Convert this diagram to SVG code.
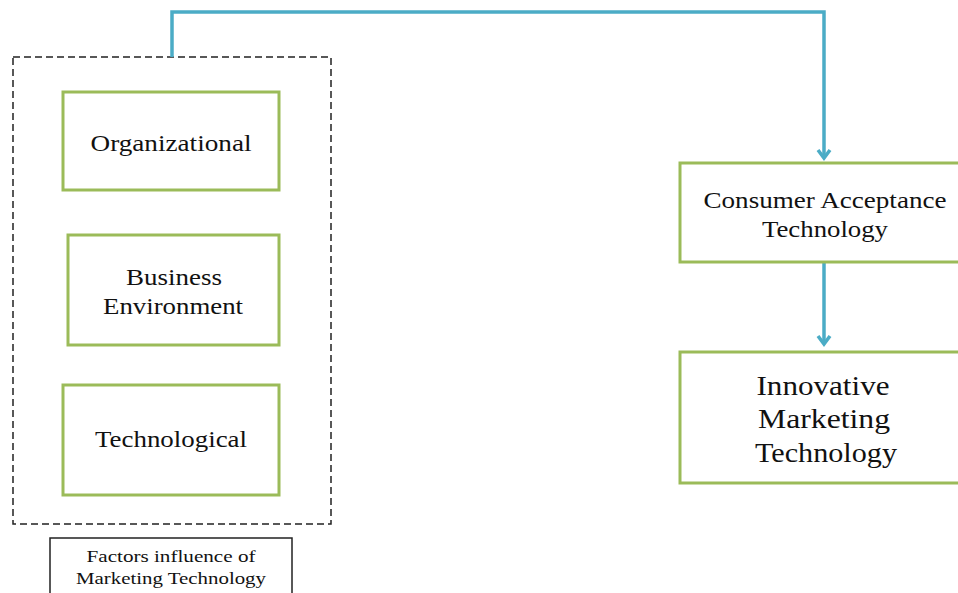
<svg xmlns="http://www.w3.org/2000/svg" width="958" height="593" viewBox="0 0 958 593">
<defs>
<style>
.box{fill:#fff;stroke:#9bbb59;stroke-width:3}
.t{font-family:"Liberation Serif",serif;fill:#111;text-anchor:middle}
.conn{fill:none;stroke:#4bacc6;stroke-width:3.5}
.head{fill:none;stroke:#4bacc6;stroke-width:3.5}
</style>
</defs>
<rect width="958" height="593" fill="#fff"/>
<g id="factors-group">
<rect x="13" y="57" width="318" height="467" fill="none" stroke="#222" stroke-width="1.5" stroke-dasharray="7,4"/>
</g>
<g id="connectors">
<path class="conn" d="M172,57 V12 H824 V158"/>
<path class="head" d="M818,150 L824,158 L830,150"/>
<path class="conn" d="M824,262 V344"/>
<path class="head" d="M818,336 L824,344 L830,336"/>
</g>
<g id="organizational">
<rect class="box" x="63" y="92" width="216" height="98"/>
<text class="t" x="171" y="151" font-size="23" textLength="161" lengthAdjust="spacingAndGlyphs">Organizational</text>
</g>
<g id="business">
<rect class="box" x="68" y="235" width="211" height="110"/>
<text class="t" x="174" y="285" font-size="23" textLength="96" lengthAdjust="spacingAndGlyphs">Business</text>
<text class="t" x="173" y="314" font-size="23" textLength="140" lengthAdjust="spacingAndGlyphs">Environment</text>
</g>
<g id="technological">
<rect class="box" x="63" y="385" width="216" height="110"/>
<text class="t" x="171" y="447" font-size="23" textLength="152" lengthAdjust="spacingAndGlyphs">Technological</text>
</g>
<g id="factors-label">
<rect x="50" y="538" width="242" height="60" fill="#fff" stroke="#222" stroke-width="1.5"/>
<text class="t" x="171" y="562" font-size="17" textLength="169" lengthAdjust="spacingAndGlyphs">Factors influence of</text>
<text class="t" x="171" y="584" font-size="17" textLength="190" lengthAdjust="spacingAndGlyphs">Marketing Technology</text>
</g>
<g id="consumer">
<rect class="box" x="680" y="163" width="290" height="99"/>
<text class="t" x="825" y="208" font-size="23" textLength="243" lengthAdjust="spacingAndGlyphs">Consumer Acceptance</text>
<text class="t" x="825" y="237" font-size="23" textLength="126" lengthAdjust="spacingAndGlyphs">Technology</text>
</g>
<g id="innovative">
<rect class="box" x="680" y="352" width="290" height="131"/>
<text class="t" x="823" y="395" font-size="27" textLength="133" lengthAdjust="spacingAndGlyphs">Innovative</text>
<text class="t" x="824" y="428" font-size="27" textLength="132" lengthAdjust="spacingAndGlyphs">Marketing</text>
<text class="t" x="826" y="462" font-size="27" textLength="142" lengthAdjust="spacingAndGlyphs">Technology</text>
</g>
</svg>
